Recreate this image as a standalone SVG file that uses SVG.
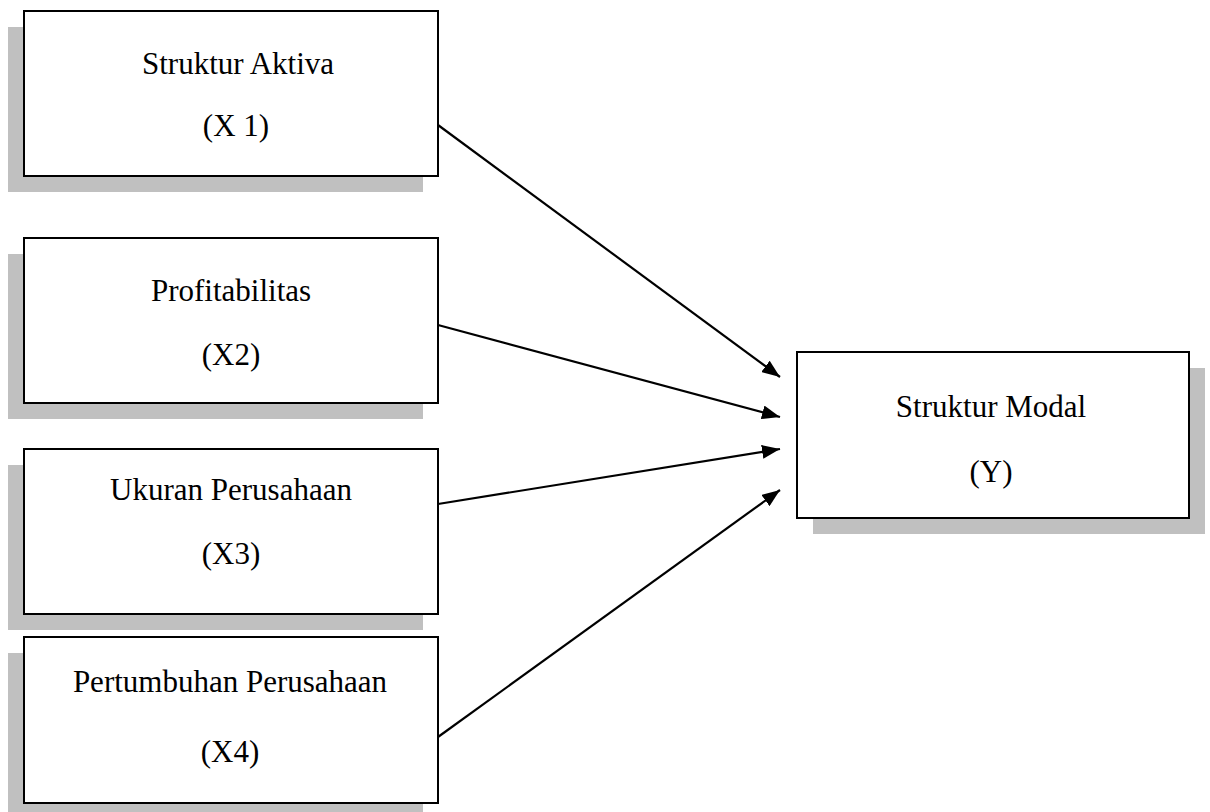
<svg xmlns="http://www.w3.org/2000/svg" width="1210" height="812" viewBox="0 0 1210 812">
<defs>
<style>
.shadow{fill:#c0c0c0;stroke:none}
.box{fill:#ffffff;stroke:#000000;stroke-width:2}
.lbl{font-family:"Liberation Serif","Times New Roman",serif;font-size:31px;fill:#000000;text-anchor:middle}
.conn{stroke:#000000;stroke-width:2.2;fill:none;marker-end:url(#ah)}
</style>
<marker id="ah" markerWidth="18" markerHeight="14" refX="18" refY="7" orient="auto" markerUnits="userSpaceOnUse" viewBox="0 0 18 14">
<path d="M0,0 L18,7 L0,14 Z" fill="#000000"/>
</marker>
</defs>
<rect width="1210" height="812" fill="#ffffff"/>
<g id="x1">
<rect class="shadow" x="8" y="27" width="415" height="165"/>
<rect class="box" x="24" y="11" width="414" height="165"/>
<text class="lbl" x="238" y="74">Struktur Aktiva</text>
<text class="lbl" x="236" y="136">(X 1)</text>
</g>
<g id="x2">
<rect class="shadow" x="8" y="254" width="415" height="165"/>
<rect class="box" x="24" y="238" width="414" height="165"/>
<text class="lbl" x="231" y="301">Profitabilitas</text>
<text class="lbl" x="231" y="365">(X2)</text>
</g>
<g id="x3">
<rect class="shadow" x="8" y="465" width="415" height="165"/>
<rect class="box" x="24" y="449" width="414" height="165"/>
<text class="lbl" x="231" y="500">Ukuran Perusahaan</text>
<text class="lbl" x="231" y="564">(X3)</text>
</g>
<g id="x4">
<rect class="shadow" x="8" y="653" width="415" height="165"/>
<rect class="box" x="24" y="637" width="414" height="166"/>
<text class="lbl" x="230" y="692">Pertumbuhan Perusahaan</text>
<text class="lbl" x="230" y="762">(X4)</text>
</g>
<g id="y">
<rect class="shadow" x="813" y="368" width="392" height="166"/>
<rect class="box" x="797" y="352" width="392" height="166"/>
<text class="lbl" x="991" y="417">Struktur Modal</text>
<text class="lbl" x="991" y="482">(Y)</text>
</g>
<g id="connectors">
<line class="conn" x1="438" y1="125" x2="780" y2="377"/>
<line class="conn" x1="438" y1="325" x2="780" y2="417"/>
<line class="conn" x1="438" y1="504" x2="780" y2="449"/>
<line class="conn" x1="438" y1="737" x2="780" y2="490"/>
</g>
</svg>
